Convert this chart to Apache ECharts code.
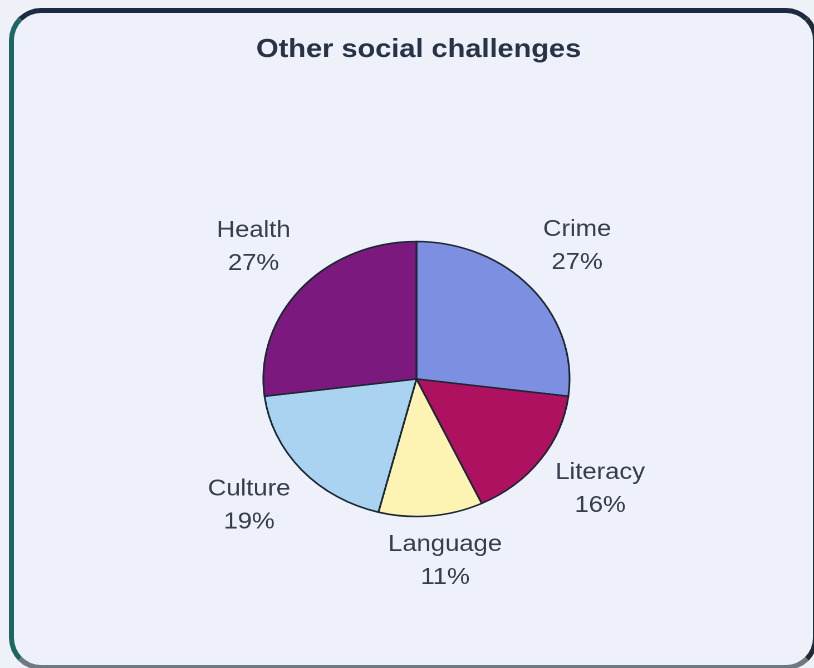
<!DOCTYPE html>
<html>
<head>
<meta charset="utf-8">
<script src="https://cdn.jsdelivr.net/npm/echarts@6/dist/echarts.min.js"></script>
<style>
  html, body { margin: 0; padding: 0; background: #eef1f8; width: 814px; height: 668px; overflow: hidden; }
  #frame { position: absolute; left: 9px; top: 8px; width: 799px; height: 652px;
           border-style: solid; border-width: 5px; border-radius: 32px;
           border-color: #1d2b42 #1e2a36 #6f7a80 #1c6664; background: #eef1f9; }
  #chart { position: absolute; left: 0; top: 0; width: 731px; height: 668px;
           transform: scaleX(1.1135); transform-origin: 0 0; }
</style>
</head>
<body>
<div id="frame"></div>
<div id="chart"></div>
<script>
const titleText = 'Other social challenges';
const categories = ['Crime', 'Literacy', 'Language', 'Culture', 'Health'];
const values = [27, 16, 11, 19, 27];
const colors = ['#7c8fe0', '#ad1160', '#fdf4b4', '#a9d3f0', '#7c197e'];
const labelNudge = [[-5, -1], [4, -7], [7, -16], [-1, -5], [3, 0]];

const pieData = categories.map((c, i) => ({ name: c, value: values[i], itemStyle: { color: colors[i] } }));
const labelData = categories.map((c, i) => ({ name: c, value: values[i] }));

const chart = echarts.init(document.getElementById('chart'), null, { renderer: 'canvas', devicePixelRatio: 2 });
chart.setOption({
  backgroundColor: 'transparent',
  animation: false,
  title: {
    text: titleText, left: 376, top: 37, textAlign: 'center', padding: 0,
    textStyle: { fontFamily: 'Liberation Sans, Arial, sans-serif', fontSize: 26, fontWeight: 'bold', color: '#283347' }
  },
  series: [
    {
      type: 'pie', center: [374, 379], radius: [0, 137.5], startAngle: 90, clockwise: true,
      silent: true, label: { show: false }, labelLine: { show: false },
      itemStyle: { borderColor: '#1b2734', borderWidth: 1.6 },
      data: pieData
    },
    {
      type: 'pie', center: [374, 379], radius: [180, 212], startAngle: 90, clockwise: true,
      silent: true, avoidLabelOverlap: false,
      itemStyle: { color: 'rgba(0,0,0,0)', borderWidth: 0 },
      labelLine: { show: false },
      label: {
        show: true, position: 'inside', color: '#363d4c',
        formatter: p => '{a|' + p.name + '}\n{a|' + p.value + '%}',
        rich: { a: { fontFamily: 'Liberation Sans, Arial, sans-serif', fontSize: 23, lineHeight: 33, color: '#363d4c', align: 'center' } }
      },
      labelLayout: p => ({ dx: labelNudge[p.dataIndex][0], dy: labelNudge[p.dataIndex][1] }),
      data: labelData
    }
  ]
});
</script>
</body>
</html>
